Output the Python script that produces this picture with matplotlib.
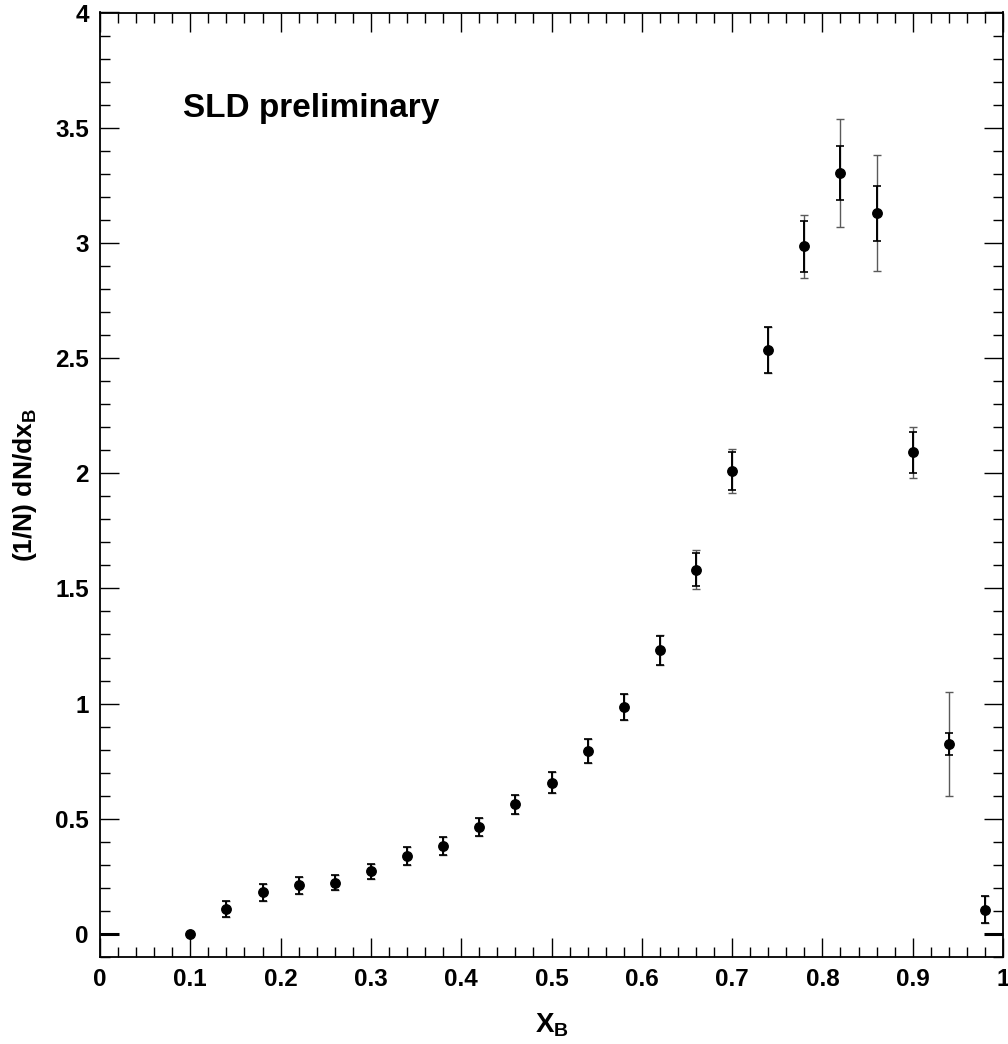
import matplotlib
matplotlib.use("Agg")
import matplotlib.pyplot as plt
from matplotlib.ticker import MultipleLocator, FuncFormatter

# ---- data ----
x_b = [0.10, 0.14, 0.18, 0.22, 0.26, 0.30, 0.34, 0.38, 0.42, 0.46, 0.50, 0.54,
       0.58, 0.62, 0.66, 0.70, 0.74, 0.78, 0.82, 0.86, 0.90, 0.94, 0.98]
dndx = [0.000, 0.109, 0.181, 0.211, 0.222, 0.272, 0.339, 0.381, 0.465, 0.563,
        0.657, 0.795, 0.985, 1.232, 1.582, 2.010, 2.535, 2.985, 3.302, 3.128,
        2.090, 0.824, 0.106]
err_stat = [0.000, 0.035, 0.038, 0.036, 0.032, 0.033, 0.040, 0.038, 0.039, 0.042,
            0.046, 0.051, 0.055, 0.063, 0.071, 0.083, 0.098, 0.110, 0.118, 0.118,
            0.090, 0.049, 0.059]
err_tot = [0.000, 0.035, 0.038, 0.036, 0.032, 0.033, 0.040, 0.038, 0.039, 0.042,
           0.046, 0.051, 0.058, 0.066, 0.085, 0.096, 0.101, 0.138, 0.234, 0.252,
           0.111, 0.226, 0.059]

plt.rcParams['font.family'] = ['Liberation Sans', 'DejaVu Sans']
plt.rcParams['font.weight'] = 'bold'
plt.rcParams['mathtext.fontset'] = 'custom'
plt.rcParams['mathtext.rm'] = 'Liberation Sans:bold'
plt.rcParams['mathtext.bf'] = 'Liberation Sans:bold'
plt.rcParams['mathtext.it'] = 'Liberation Sans:bold'

fig = plt.figure(figsize=(10.08, 10.44), dpi=100)
ax = fig.add_axes([100/1008, 1 - 957/1044, 903/1008, 944.5/1044])

# total errors (outer, grey)
ax.errorbar(x_b, dndx, yerr=err_tot, fmt='none', ecolor='#5a5a5a',
            elinewidth=1.0, capsize=3.0, capthick=1.0, zorder=2)
# statistical errors (inner, black)
ax.errorbar(x_b, dndx, yerr=err_stat, fmt='o', color='black', ms=6.8,
            ecolor='black', elinewidth=1.4, capsize=3.0, capthick=1.2, zorder=3)

ax.set_xlim(0, 1)
ax.set_ylim(-0.1, 4)

ax.xaxis.set_major_locator(MultipleLocator(0.1))
ax.xaxis.set_minor_locator(MultipleLocator(0.02))
ax.yaxis.set_major_locator(MultipleLocator(0.5))
ax.yaxis.set_minor_locator(MultipleLocator(0.1))
fmt = FuncFormatter(lambda v, p: ('%g' % round(v, 3)))
ax.xaxis.set_major_formatter(fmt)
ax.yaxis.set_major_formatter(fmt)

ax.tick_params(which='both', direction='in', top=True, right=True, width=1.0)
ax.tick_params(which='major', length=13.5, labelsize=17.5, pad=8)
ax.tick_params(which='minor', length=7)
for lab in ax.get_xticklabels() + ax.get_yticklabels():
    lab.set_fontweight('bold')
for s in ax.spines.values():
    s.set_linewidth(1.3)

# heavier zero tick on both sides, as in the original
fig.canvas.draw()
for t in ax.yaxis.get_major_ticks():
    if abs(t.get_loc()) < 1e-9:
        t.tick1line.set_markeredgewidth(2.2)
        t.tick2line.set_markeredgewidth(2.2)

ax.set_xlabel(r'X$_{\mathbf{B}}$', fontsize=20, fontweight='bold')
ax.xaxis.set_label_coords(0.5, -0.058)
ax.set_ylabel(r'(1/N) dN/dx$_{\mathbf{B}}$', fontsize=19, fontweight='bold')
ax.yaxis.set_label_coords(-0.067, 0.5)

ax.text(83/903, 0.889, 'SLD preliminary', transform=ax.transAxes,
        fontsize=24, fontweight='bold', ha='left', va='baseline')

fig.savefig('out.png', dpi=100)
